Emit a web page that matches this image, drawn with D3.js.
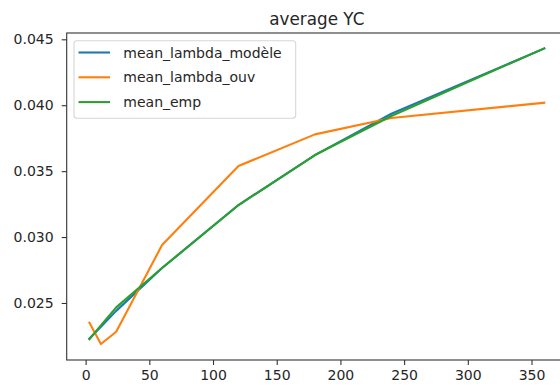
<!DOCTYPE html>
<html>
<head>
<meta charset="utf-8">
<script src="https://cdn.jsdelivr.net/npm/d3@7"></script>
<style>
  html, body { margin: 0; padding: 0; background: #fff; overflow: hidden; }
  text { font-family: "DejaVu Sans", sans-serif; fill: #262626; }
</style>
</head>
<body>
<svg id="chart" width="560" height="387"></svg>
<script>
const xValues = [3, 12, 24, 60, 120, 180, 240, 360];
const meanLambdaModele = [0.0223, 0.0232, 0.0244, 0.02765, 0.03243, 0.03622, 0.03935, 0.0443];
const meanLambdaOuv    = [0.0235, 0.02189, 0.02282, 0.02939, 0.03539, 0.03779, 0.03903, 0.04019];
const meanEmp          = [0.02225, 0.0233, 0.02467, 0.02765, 0.03243, 0.03622, 0.03918, 0.04432];
const seriesNames = ["mean_lambda_modèle", "mean_lambda_ouv", "mean_emp"];
const seriesColors = ["#1f77b4", "#ff7f0e", "#2ca02c"];
const xTicks = [0, 50, 100, 150, 200, 250, 300, 350];
const yTicks = [0.025, 0.030, 0.035, 0.040, 0.045];
const titleText = "average YC";

const series = [meanLambdaModele, meanLambdaOuv, meanEmp];

const svg = d3.select("#chart");
const L = 66.7, T = 33, R = 567, B = 360;

const x = d3.scaleLinear().domain([-14.85, 377.85]).range([L, R]);
const y = d3.scaleLinear().domain([0.020675, 0.045478]).range([B, T]);

// lines
const line = d3.line().x((d, i) => x(xValues[i])).y(d => y(d));
series.forEach((s, k) => {
  svg.append("path")
    .datum(s)
    .attr("d", line)
    .attr("fill", "none")
    .attr("stroke", seriesColors[k])
    .attr("stroke-width", 2.1)
    .attr("stroke-linejoin", "round")
    .attr("stroke-linecap", "square");
});

// frame
svg.append("rect")
  .attr("x", L).attr("y", T)
  .attr("width", R - L).attr("height", B - T)
  .attr("fill", "none").attr("stroke", "#333").attr("stroke-width", 1.1);

// axes
const xAxis = d3.axisBottom(x).tickValues(xTicks).tickSize(5).tickPadding(5)
  .tickFormat(d3.format("d"));
const gx = svg.append("g").attr("transform", `translate(0,${B})`).call(xAxis);
gx.select(".domain").remove();
gx.selectAll("line").attr("stroke", "#333").attr("stroke-width", 1.1);
gx.selectAll("text").attr("font-size", 14).attr("font-family", "DejaVu Sans").attr("fill", "#262626");

const yAxis = d3.axisLeft(y).tickValues(yTicks).tickSize(5).tickPadding(8)
  .tickFormat(d3.format(".3f"));
const gy = svg.append("g").attr("transform", `translate(${L},0)`).call(yAxis);
gy.select(".domain").remove();
gy.selectAll("line").attr("stroke", "#333").attr("stroke-width", 1.1);
gy.selectAll("text").attr("font-size", 14).attr("font-family", "DejaVu Sans").attr("fill", "#262626");

// title
svg.append("text")
  .attr("x", (L + R) / 2).attr("y", 25)
  .attr("text-anchor", "middle")
  .attr("font-size", 16.8)
  .text(titleText);

// legend
const lg = svg.append("g");
lg.append("rect")
  .attr("x", 74).attr("y", 40.7)
  .attr("width", 221.7).attr("height", 77.6)
  .attr("rx", 3).attr("ry", 3)
  .attr("fill", "#fff").attr("fill-opacity", 0.8)
  .attr("stroke", "#d6d6d6").attr("stroke-width", 1.1);
seriesNames.forEach((name, k) => {
  const yy = 52.5 + k * 24.8;
  lg.append("line")
    .attr("x1", 78.5).attr("x2", 110).attr("y1", yy).attr("y2", yy)
    .attr("stroke", seriesColors[k]).attr("stroke-width", 2.1);
  lg.append("text")
    .attr("x", 123.3).attr("y", yy + 5)
    .attr("font-size", 14)
    .text(name);
});
</script>
</body>
</html>
